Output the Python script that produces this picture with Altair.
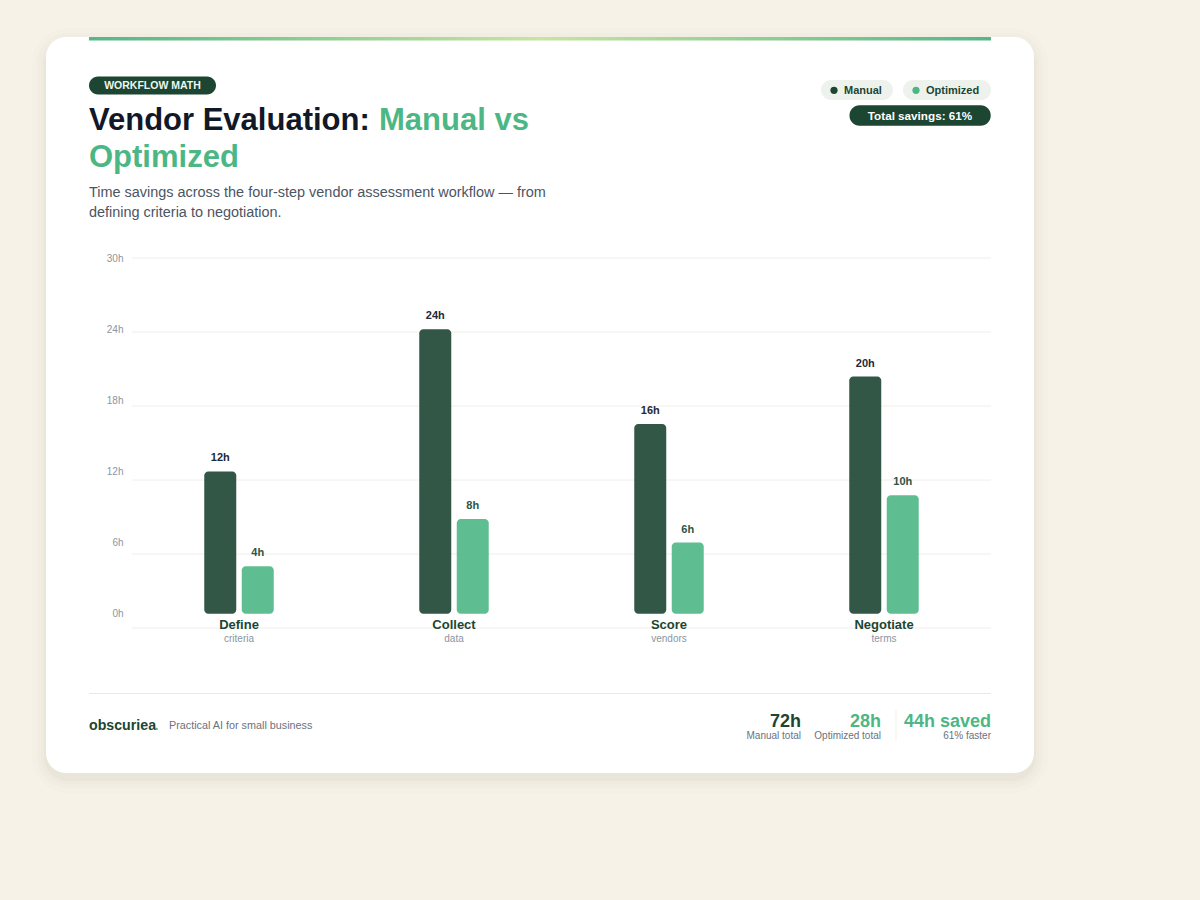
import altair as alt
import pandas as pd

# ---------------- data ----------------
steps = ["Define", "Collect", "Score", "Negotiate"]
step_subs = ["criteria", "data", "vendors", "terms"]
series = ["Manual", "Optimized"]
manual_hours = [12, 24, 16, 20]
optimized_hours = [4, 8, 6, 10]
y_ticks = [0, 6, 12, 18, 24, 30]
series_colors = ["#1c4532", "#4cb785"]

manual_total = sum(manual_hours)
opt_total = sum(optimized_hours)
saved = manual_total - opt_total
pct = round(saved / manual_total * 100)

rows = []
for i, s in enumerate(steps):
    rows.append({"step": s, "series": series[0], "hours": manual_hours[i]})
    rows.append({"step": s, "series": series[1], "hours": optimized_hours[i]})
df = pd.DataFrame(rows)
cats = pd.DataFrame({"step": steps, "sub": step_subs})
grid = pd.DataFrame({"g": y_ticks})
legend_df = pd.DataFrame({"series": series})
one = pd.DataFrame({"k": [0]})

# ---------------- layout helpers ----------------
FONT = "Liberation Sans"
OX, OY = 132, 258          # plot origin on the page
W, H = 859, 370            # plot area
BG = "#f6f2e7"
DARK = "#1c4532"
GREEN = "#4cb785"


def px(x):
    return x - OX


def py(y):
    return y - OY


def rect(x1, y1, x2, y2, color, radius=0, opacity=1.0):
    return alt.Chart(one).mark_rect(
        color=color, cornerRadius=radius, opacity=opacity
    ).encode(
        x=alt.value(px(x1)), x2=alt.value(px(x2)),
        y=alt.value(py(y1)), y2=alt.value(py(y2)),
    )


def text(t, x, y, size, color, weight="normal", align="left"):
    return alt.Chart(one).mark_text(
        text=t, fontSize=size, color=color, fontWeight=weight,
        align=align, baseline="alphabetic", font=FONT,
    ).encode(x=alt.value(px(x)), y=alt.value(py(y)))


color_scale = alt.Scale(domain=series, range=series_colors)
y_scale = alt.Scale(domain=[-1.2, 30], nice=False, zero=False)
x_enc = alt.X("step:N", sort=steps,
              scale=alt.Scale(paddingInner=0.6512, paddingOuter=0.3233), axis=None)
xoff_enc = alt.XOffset("series:N", sort=series,
                       scale=alt.Scale(paddingInner=0.1467, paddingOuter=0.0733))

# ---------------- page / card ----------------
page = rect(0, 0, 1200, 900, BG)
shadows = [
    rect(46 - e, 37 - e + 5, 1034 + e, 773 + e + 6, "#5a5040", radius=22 + e, opacity=op)
    for e, op in [(14, 0.010), (9, 0.014), (5, 0.02), (2, 0.026)]
]
card = rect(46, 37, 1034, 773, "#ffffff", radius=20)
top_bar = alt.Chart(one).mark_rect(
    color=alt.LinearGradient(
        gradient="linear",
        stops=[
            alt.GradientStop(color="#56b687", offset=0),
            alt.GradientStop(color="#c6e5a0", offset=0.5),
            alt.GradientStop(color="#56b687", offset=1),
        ],
        x1=0, x2=1, y1=0, y2=0,
    )
).encode(x=alt.value(px(89)), x2=alt.value(px(991)),
         y=alt.value(py(37)), y2=alt.value(py(40.5)))

# ---------------- header ----------------
badge = rect(89, 76.5, 216, 94.5, DARK, radius=9)
badge_t = text("WORKFLOW MATH", 152.5, 89.2, 10.5, "#eef6f0", "bold", "center")
title1 = text("Vendor Evaluation:", 89, 130, 31, "#111827", "bold")
title2 = text("Manual vs", 379, 130, 31, GREEN, "bold")
title3 = text("Optimized", 89, 167, 31, GREEN, "bold")
sub1 = text("Time savings across the four-step vendor assessment workflow \u2014 from",
            89, 196.5, 14.45, "#4b5563")
sub2 = text("defining criteria to negotiation.", 89, 216.5, 14.45, "#4b5563")

pill_m = rect(821, 80, 893, 100, "#edf3ec", radius=10)
pill_o = rect(903, 80, 991, 100, "#edf3ec", radius=10)


def legend_dot(name, x):
    return alt.Chart(legend_df).transform_filter(
        alt.datum.series == name
    ).mark_circle(size=52, opacity=1).encode(
        x=alt.value(px(x)), y=alt.value(py(90.3)),
        color=alt.Color("series:N", scale=color_scale, legend=None),
    )


dot_m = legend_dot(series[0], 834)
dot_o = legend_dot(series[1], 916)
leg_m = text(series[0], 844, 94.2, 11, DARK, "bold")
leg_o = text(series[1], 926, 94.2, 11, DARK, "bold")
sav_pill = rect(849.5, 105.3, 990.7, 125.7, DARK, radius=10)
sav_t = text(f"Total savings: {pct}%", 920, 120, 11.7, "#ffffff", "bold", "center")

# ---------------- chart ----------------
grid_layer = alt.Chart(grid).mark_rule(color="#efeee8", strokeWidth=1).encode(
    y=alt.Y("g:Q", scale=alt.Scale(domain=[0, 30], nice=False), axis=None)
)

bars = alt.Chart(df).mark_bar(cornerRadius=4, opacity=0.9).encode(
    x=x_enc,
    xOffset=xoff_enc,
    y=alt.Y("hours:Q", scale=y_scale,
            axis=alt.Axis(values=y_ticks, labelExpr="datum.value + 'h'",
                          orient="left", zindex=5,
                          domain=False, ticks=False, grid=False,
                          labelPadding=9, labelFontSize=10,
                          labelColor="#8b95a5", labelFont=FONT, title=None)),
    y2=alt.Y2(datum=0),
    color=alt.Color("series:N", scale=color_scale, legend=None),
)

value_labels = alt.Chart(df).transform_calculate(
    label="datum.hours + 'h'"
).mark_text(fontSize=11, fontWeight="bold", baseline="alphabetic",
            dy=-10, font=FONT).encode(
    x=x_enc,
    xOffset=xoff_enc,
    y=alt.Y("hours:Q", scale=y_scale, axis=None),
    text="label:N",
    color=alt.condition(alt.datum.series == series[0],
                        alt.value("#1f2937"), alt.value("#2f5446")),
)

cat_names = alt.Chart(cats).mark_text(
    fontSize=13, fontWeight="bold", color=DARK, baseline="alphabetic",
    dy=15.5, font=FONT,
).encode(x=x_enc, y=alt.YDatum(0, scale=y_scale, axis=None), text="step:N")

cat_subs = alt.Chart(cats).mark_text(
    fontSize=10, color="#8b95a1", baseline="alphabetic", dy=28.5, font=FONT,
).encode(x=x_enc, y=alt.YDatum(0, scale=y_scale, axis=None), text="sub:N")

# ---------------- footer ----------------
foot_line = rect(89, 693, 991, 694, "#ebe9e3")
brand = text("obscuriea", 89, 729.5, 14.2, DARK, "bold")
brand_dot = text(".", 154.5, 729.5, 14.2, GREEN, "bold")
tagline = text("Practical AI for small business", 169, 729, 10.8, "#6b7280")
m_tot = text(f"{manual_total}h", 801, 726.5, 18, DARK, "bold", "right")
m_lab = text("Manual total", 801, 738.8, 10, "#6b7280", "normal", "right")
o_tot = text(f"{opt_total}h", 881, 726.5, 18, GREEN, "bold", "right")
o_lab = text("Optimized total", 881, 738.8, 10, "#6b7280", "normal", "right")
divider = rect(895.5, 710, 896.5, 740, "#efefea")
s_tot = text(f"{saved}h saved", 991, 726.5, 18, GREEN, "bold", "right")
s_lab = text(f"{pct}% faster", 991, 738.8, 10, "#6b7280", "normal", "right")

chart = alt.layer(
    page, *shadows, card, top_bar,
    badge, badge_t, title1, title2, title3, sub1, sub2,
    pill_m, pill_o, dot_m, dot_o, leg_m, leg_o, sav_pill, sav_t,
    grid_layer, bars, value_labels, cat_names, cat_subs,
    foot_line, brand, brand_dot, tagline,
    m_tot, m_lab, o_tot, o_lab, divider, s_tot, s_lab,
).resolve_scale(
    y="independent"
).properties(
    width=W, height=H, padding=0, background=BG
).configure_view(
    stroke=None
)

chart.save("out.html", embed_options={"renderer": "svg", "actions": False})
